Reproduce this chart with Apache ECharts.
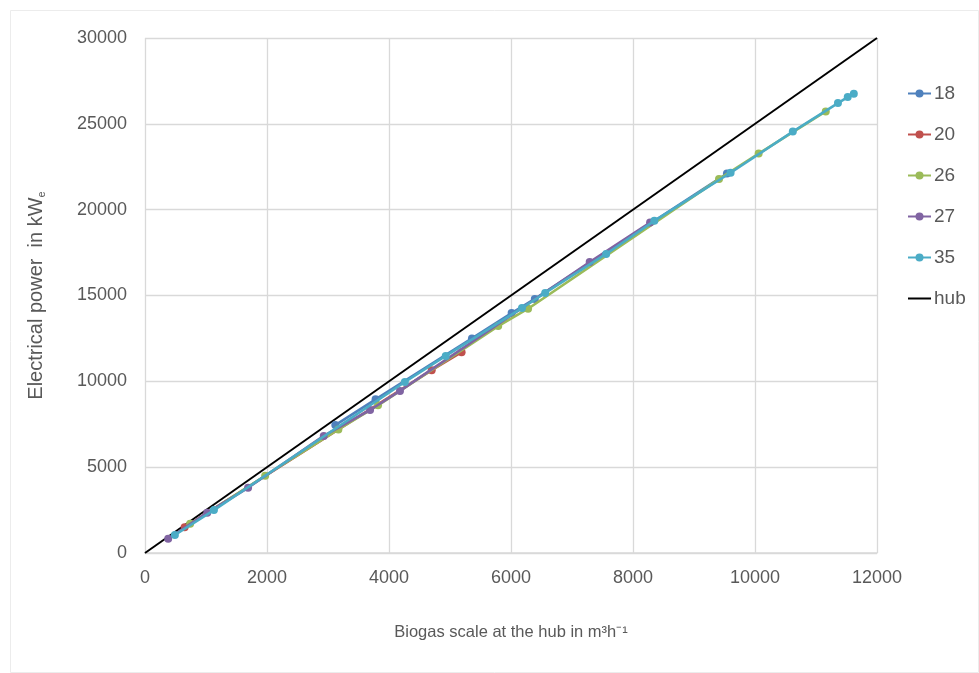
<!DOCTYPE html>
<html>
<head>
<meta charset="utf-8">
<script src="https://cdn.jsdelivr.net/npm/echarts@6/dist/echarts.min.js"></script>
<style>
  html, body { margin: 0; padding: 0; background: #fff; }
  #chart { width: 979px; height: 673px; }
</style>
</head>
<body>
<div id="chart"></div>
<script>
// Biogas flow at the hub (m³/h) vs. electrical power (kWe), per scenario
const seriesNames = ['18', '20', '26', '27', '35'];
const seriesColors = ['#4F81BD', '#C0504D', '#9BBB59', '#8064A2', '#4BACC6'];

const s18 = [[3120, 7450], [3780, 8950], [5360, 12500], [6010, 13980], [6390, 14800], [9540, 22100]];
const s20 = [[650, 1500], [4700, 10650], [5190, 11700]];
const s26 = [[740, 1700], [1970, 4500], [3170, 7200], [3820, 8600], [5790, 13220], [6280, 14230], [9410, 21780], [10060, 23270], [11160, 25720]];
const s27 = [[380, 830], [1020, 2350], [1690, 3800], [2930, 6820], [3690, 8330], [4180, 9440], [7290, 16950], [8280, 19250]];
const s35 = [[490, 1050], [1130, 2500], [4260, 9960], [4930, 11480], [6180, 14270], [6560, 15150], [7560, 17420], [8350, 19350], [9600, 22150], [10620, 24550], [11360, 26210], [11520, 26560], [11620, 26750]];
const hub = [[0, 0], [12000, 30000]];

const seriesData = [s18, s20, s26, s27, s35];

const xTicks = { min: 0, max: 12000, interval: 2000 };
const yTicks = { min: 0, max: 30000, interval: 5000 };

const textColor = '#595959';
const fontFamily = '"Liberation Sans", "Open Sans", sans-serif';

const chart = echarts.init(document.getElementById('chart'), null, { renderer: 'canvas' });

const series = seriesData.map((d, i) => ({
  name: seriesNames[i],
  type: 'line',
  data: d,
  color: seriesColors[i],
  symbol: 'circle',
  symbolSize: 8,
  lineStyle: { width: 2.6, color: seriesColors[i] },
  itemStyle: { color: seriesColors[i] },
  z: 3 + i
}));

series.push({
  name: 'hub',
  type: 'line',
  data: hub,
  color: '#000',
  symbol: 'none',
  showSymbol: false,
  lineStyle: { width: 2, color: '#000' },
  z: 2
});

const legendData = seriesNames.map(n => ({ name: n }));
legendData.push({ name: 'hub', itemStyle: { opacity: 0 } });

chart.setOption({
  animation: false,
  backgroundColor: '#fff',
  grid: { left: 145, right: 102, top: 38, bottom: 120, containLabel: false },
  legend: {
    orient: 'vertical',
    left: 902,
    top: 79,
    itemWidth: 23,
    itemHeight: 10,
    itemGap: 22,
    data: legendData,
    textStyle: { color: textColor, fontSize: 19, fontFamily: fontFamily, padding: [0, 0, 0, -2] }
  },
  xAxis: {
    type: 'value',
    min: xTicks.min,
    max: xTicks.max,
    interval: xTicks.interval,
    name: 'Biogas scale at the hub in m³h⁻¹',
    nameLocation: 'middle',
    nameGap: 71,
    nameTextStyle: { color: textColor, fontSize: 16.5, fontFamily: fontFamily },
    axisLine: { show: true, lineStyle: { color: '#d9d9d9', width: 1.5 } },
    axisTick: { show: false },
    axisLabel: {
      color: textColor, fontSize: 18, fontFamily: fontFamily, margin: 16,
      formatter: v => String(v)
    },
    splitLine: { show: true, lineStyle: { color: '#d9d9d9', width: 1.3 } }
  },
  yAxis: {
    type: 'value',
    min: yTicks.min,
    max: yTicks.max,
    interval: yTicks.interval,
    name: 'Electrical power  in kW{sub|e}',
    nameLocation: 'middle',
    nameGap: 98,
    nameTextStyle: {
      color: textColor, fontSize: 20, fontFamily: fontFamily,
      rich: { sub: { fontSize: 11, color: textColor, fontFamily: fontFamily, verticalAlign: 'bottom', padding: [10, 0, 0, 0] } }
    },
    axisLine: { show: false },
    axisTick: { show: false },
    axisLabel: {
      color: textColor, fontSize: 18, fontFamily: fontFamily, margin: 18,
      formatter: v => String(v)
    },
    splitLine: { show: true, lineStyle: { color: '#d9d9d9', width: 1.3 } }
  },
  graphic: [{
    type: 'rect',
    shape: { x: 10.5, y: 10.5, width: 968, height: 662 },
    style: { fill: 'none', stroke: '#ececec', lineWidth: 1 },
    silent: true
  }],
  series: series
});
</script>
</body>
</html>
